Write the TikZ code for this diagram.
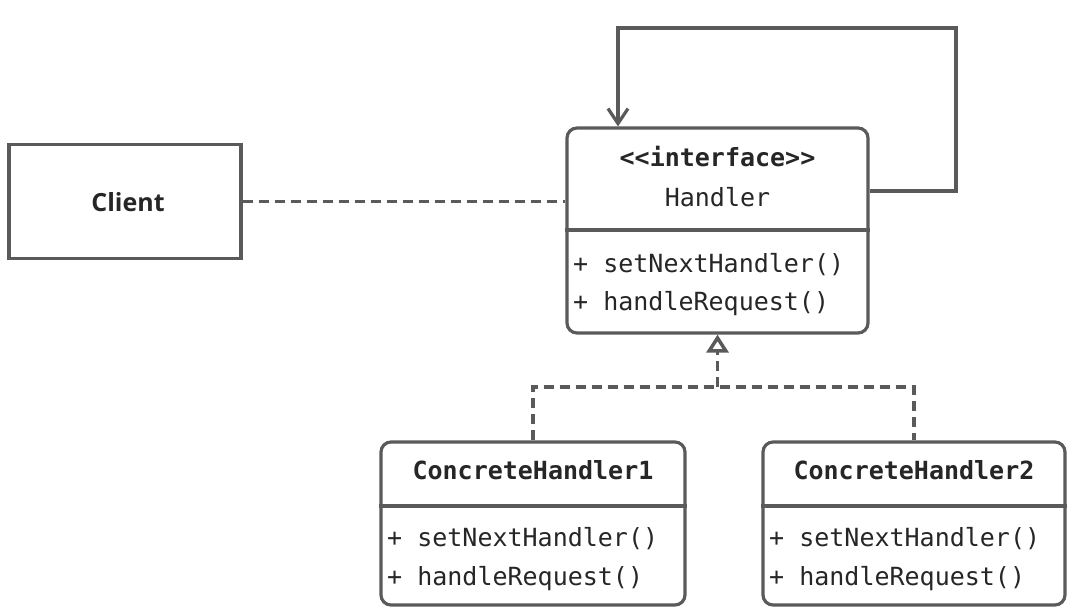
\documentclass[tikz,border=0pt]{standalone}
\usepackage{fontspec}
\setmonofont{DejaVu Sans Mono}
\setsansfont{Open Sans}
\usetikzlibrary{arrows.meta}

\definecolor{umlline}{HTML}{5A5A5A}
\definecolor{umltext}{HTML}{262626}

\tikzset{
  x=1pt, y=-1pt,
  box/.style={draw=umlline, line width=3.2pt, fill=white, inner sep=0pt},
  classbox/.style={box, rounded corners=10pt},
  monotext/.style={text=umltext, inner sep=0pt, font=\ttfamily\fontsize{25}{30}\selectfont},
  member/.style={monotext, anchor=mid west},
  title/.style={monotext, anchor=mid, font=\ttfamily\bfseries\fontsize{25}{30}\selectfont},
  sepline/.style={draw=umlline, line width=3.2pt},
  dependency/.style={draw=umlline, line width=3.5pt, dash pattern=on 10pt off 6pt},
  association/.style={draw=umlline, line width=3.2pt, -{Straight Barb[length=15pt, width=20pt, line width=3.2pt]}},
}

\begin{document}
\begin{tikzpicture}
  \useasboundingbox (0,0) rectangle (1074,613);

  % Client
  \node[box, minimum width=232pt, minimum height=114pt] (client) at (125,201.5) {};
  \node[text=umltext, inner sep=0pt, anchor=mid, font=\sffamily\bfseries\fontsize{25}{30}\selectfont] (clientlabel) at (128,209) {Client};

  % Handler interface
  \node[classbox, minimum width=301pt, minimum height=205pt] (handler) at (717.5,230.5) {};
  \draw[sepline] (handler.west |- 0,230) -- (handler.east |- 0,230);
  \node[title] (hstereo) at (717.5,164) {<<interface>>};
  \node[monotext, anchor=mid] (hname) at (717.5,204) {Handler};
  \node[member] (hm1) at (573,270) {+ setNextHandler()};
  \node[member] (hm2) at (573,308) {+ handleRequest()};

  % ConcreteHandler1
  \node[classbox, minimum width=304pt, minimum height=163pt] (ch1) at (533,523.5) {};
  \draw[sepline] (ch1.west |- 0,506) -- (ch1.east |- 0,506);
  \node[title] (ch1name) at (533,477) {ConcreteHandler1};
  \node[member] (ch1m1) at (387,544) {+ setNextHandler()};
  \node[member] (ch1m2) at (387,583) {+ handleRequest()};

  % ConcreteHandler2
  \node[classbox, minimum width=302pt, minimum height=163pt] (ch2) at (914,523.5) {};
  \draw[sepline] (ch2.west |- 0,506) -- (ch2.east |- 0,506);
  \node[title] (ch2name) at (914,477) {ConcreteHandler2};
  \node[member] (ch2m1) at (769,544) {+ setNextHandler()};
  \node[member] (ch2m2) at (769,583) {+ handleRequest()};

  % Client uses Handler
  \draw[dependency] (client.east) -- (client.east -| handler.west);

  % successor reference: Handler -> Handler
  \coordinate (loopout) at (handler.east |- 0,191);
  \coordinate (loopcorner1) at (956,191);
  \coordinate (loopcorner2) at (956,28);
  \coordinate (loopcorner3) at (618,28);
  \draw[association, line join=miter] (loopout) -- (loopcorner1) -- (loopcorner2) -- (loopcorner3) -- (loopcorner3 |- handler.north);

  % realization of the interface
  \coordinate (junction) at (handler.south |- 0,387);
  \draw[dependency] (ch1.north) |- (junction) -| (ch2.north);
  \draw[dependency, -{Triangle[open, length=18pt, width=22pt, line width=3.5pt, fill=white]}]
    (junction) -- (handler.south);
\end{tikzpicture}
\end{document}
